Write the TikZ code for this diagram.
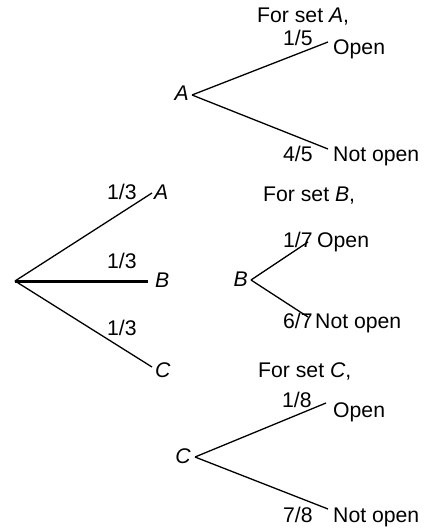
\documentclass[tikz,border=0pt]{standalone}
\usepackage{fontspec}
\setmainfont{Liberation Sans}
\begin{document}
\begin{tikzpicture}[x=1bp,y=-1bp,
  txt/.style={inner sep=0pt,anchor=base west,font=\fontsize{21.2bp}{24bp}\selectfont},
  txtr/.style={txt,anchor=base east},
  branch/.style={line width=1.3bp},
  thickbranch/.style={line width=3bp}]
\useasboundingbox (0,0) rectangle (425,532);
% main tree
\coordinate (root) at (15,281);
\coordinate (eA) at (152,193);
\coordinate (eB) at (148,281);
\coordinate (eC) at (152,367);
\draw[branch] (root) -- (eA);
\draw[thickbranch] (root) -- (eB);
\draw[branch] (root) -- (eC);
\node[txt] (lA) at (154,200) {\textit{A}};
\node[txt] (lB) at (155,287) {\textit{B}};
\node[txt] (lC) at (155,377) {\textit{C}};
\node[txt] (pA) at (107,200) {1/3};
\node[txt] (pB) at (107,268) {1/3};
\node[txt] (pC) at (107,335) {1/3};
% set A
\node[txt] (forA) at (257,23) {For set \textit{A},};
\node[txtr] (tA) at (189,101) {\textit{A}};
\coordinate (vA) at (192,95);
\coordinate (oA) at (328,42);
\coordinate (nA) at (328,149);
\draw[branch] (vA) -- (oA);
\draw[branch] (vA) -- (nA);
\node[txt] (openA) at (333,55) {Open};
\node[txt] (notA) at (333,162) {Not open};
\node[txt] (pOA) at (283,46) {1/5};
\node[txt] (pNA) at (283,162) {4/5};
% set B
\node[txt] (forB) at (263,202) {For set \textit{B},};
\node[txtr] (tB) at (248,286) {\textit{B}};
\coordinate (vB) at (251,280);
\coordinate (oB) at (308,242);
\coordinate (nB) at (308,317);
\draw[branch] (vB) -- (oB);
\draw[branch] (vB) -- (nB);
\node[txt] (openB) at (317,247) {Open};
\node[txt] (notB) at (315,328) {Not open};
\node[txt] (pOB) at (283,247) {1/7};
\node[txt] (pNB) at (283,328) {6/7};
% set C
\node[txt] (forC) at (258,377) {For set \textit{C},};
\node[txtr] (tC) at (191,463) {\textit{C}};
\coordinate (vC) at (195,457);
\coordinate (oC) at (326,403);
\coordinate (nC) at (328,509);
\draw[branch] (vC) -- (oC);
\draw[branch] (vC) -- (nC);
\node[txt] (openC) at (333,417) {Open};
\node[txt] (notC) at (333,522) {Not open};
\node[txt] (pOC) at (282,407) {1/8};
\node[txt] (pNC) at (283,522) {7/8};
\end{tikzpicture}
\end{document}
